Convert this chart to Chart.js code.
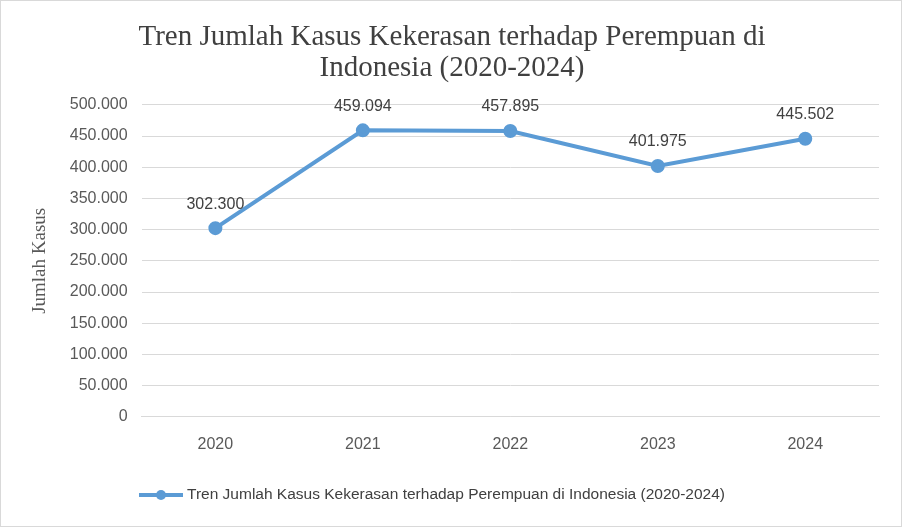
<!DOCTYPE html>
<html><head><meta charset="utf-8">
<script src="https://cdn.jsdelivr.net/npm/chart.js@4"></script>
<style>
body{margin:0;background:#fff}
#wrap{width:900px;height:525px;border:1px solid #d9d9d9;position:relative}
</style></head>
<body><div id="wrap"><canvas id="c" width="900" height="525"></canvas></div>
<script>
const years = ['2020','2021','2022','2023','2024']
const kasus = [302300, 459094, 457895, 401975, 445502]
const seriesName = 'Tren Jumlah Kasus Kekerasan terhadap Perempuan di Indonesia (2020-2024)'

function fmt(v){ return v.toString().replace(/\B(?=(\d{3})+(?!\d))/g, '.') }

const sans = '"Liberation Sans", Arial, sans-serif'

// value labels above the points + legend with a line/circle marker
const extras = {
    id: 'extras',
    afterDatasetsDraw(chart){
        const ctx = chart.ctx
        const meta = chart.getDatasetMeta(0)
        ctx.save()
        ctx.font = '16px ' + sans
        ctx.fillStyle = '#404040'
        ctx.textAlign = 'center'
        ctx.textBaseline = 'middle'
        meta.data.forEach((pt, i) => {
            ctx.fillText(fmt(kasus[i]), pt.x, pt.y - 24)
        })
        // legend
        const y = 494
        ctx.strokeStyle = '#5b9bd5'
        ctx.fillStyle = '#5b9bd5'
        ctx.lineWidth = 4
        ctx.beginPath(); ctx.moveTo(138, y); ctx.lineTo(182, y); ctx.stroke()
        ctx.beginPath(); ctx.arc(160, y, 5, 0, Math.PI * 2); ctx.fill()
        ctx.fillStyle = '#404040'
        ctx.textAlign = 'left'
        ctx.font = '15.5px ' + sans
        ctx.fillText(seriesName, 186, y)
        ctx.restore()
    }
}

new Chart(document.getElementById('c'), {
    type: 'line',
    data: {
        labels: years,
        datasets: [{
            label: seriesName,
            data: kasus,
            borderColor: '#5b9bd5',
            backgroundColor: '#5b9bd5',
            borderWidth: 4,
            pointRadius: 5,
            pointBackgroundColor: '#5b9bd5',
            tension: 0
        }]
    },
    plugins: [extras],
    options: {
        responsive: false,
        animation: false,
        layout: { padding: { left: 24, right: 22, top: 20, bottom: 62 } },
        plugins: {
            title: {
                display: true,
                text: ['Tren Jumlah Kasus Kekerasan terhadap Perempuan di', 'Indonesia (2020-2024)'],
                font: { family: '"Liberation Serif", "Times New Roman", serif', size: 29, weight: 'normal', lineHeight: 1.1 },
                color: '#404040',
                padding: { top: 0, bottom: 20 }
            },
            legend: { display: false },
            tooltip: { enabled: false }
        },
        scales: {
            y: {
                min: 0, max: 500000,
                ticks: {
                    stepSize: 50000,
                    callback: v => fmt(v),
                    color: '#595959',
                    font: { family: sans, size: 16 },
                    padding: 14
                },
                grid: { color: '#d9d9d9', drawTicks: false },
                border: { display: false },
                title: {
                    display: true,
                    text: 'Jumlah Kasus',
                    color: '#595959',
                    font: { family: '"Liberation Serif", "Times New Roman", serif', size: 19 }
                }
            },
            x: {
                offset: true,
                ticks: {
                    color: '#595959',
                    font: { family: sans, size: 16 },
                    padding: 10
                },
                grid: { display: false },
                border: { color: '#d9d9d9' }
            }
        }
    }
});
</script></body></html>
